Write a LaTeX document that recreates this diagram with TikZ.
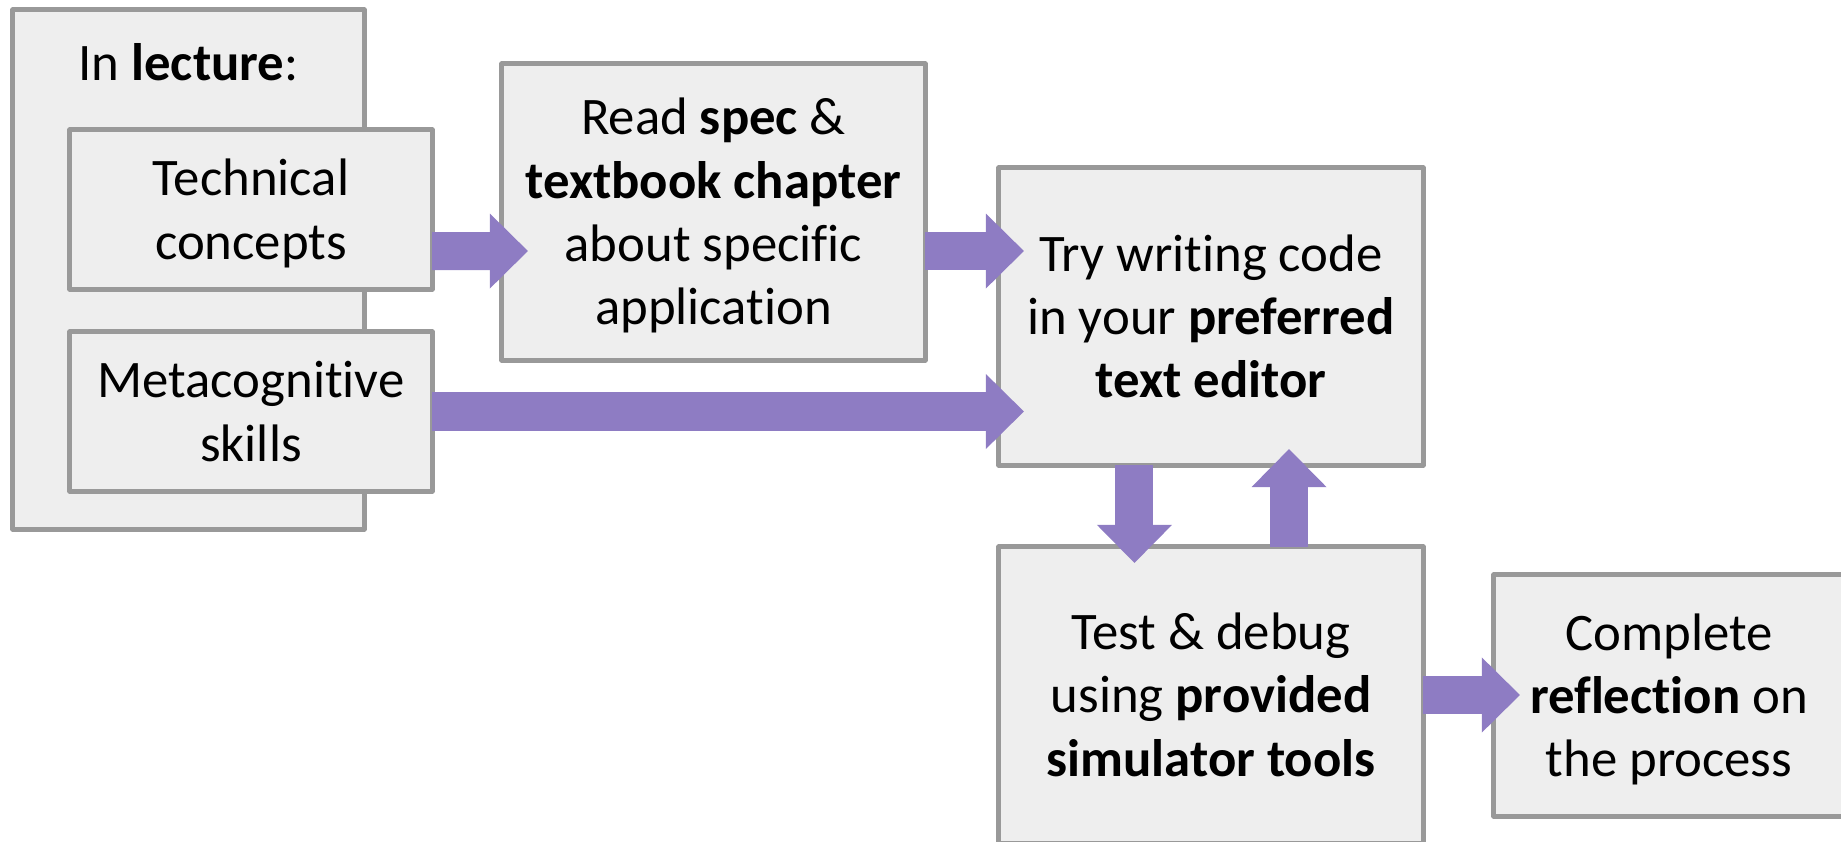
\documentclass[tikz,border=0pt]{standalone}
\usepackage{fontspec}
\setmainfont{Carlito}[Ligatures={TeX,NoCommon}]
\usetikzlibrary{arrows.meta}
\definecolor{boxfill}{HTML}{EEEEEE}
\definecolor{boxline}{HTML}{999999}
\definecolor{arrowfill}{HTML}{8E7CC3}
\newcommand\boxtext[1]{\begin{tabular}{@{}c@{}}\rule{0pt}{15.6pt}#1\end{tabular}}

\begin{document}
\begin{tikzpicture}[x=0.01cm, y=-0.01cm,
  box/.style={draw=boxline, fill=boxfill, line width=0.05cm, line join=round,
    inner sep=0pt, outer sep=0pt, font=\fontsize{15}{18}\selectfont},
  fat/.style={draw=arrowfill, line width=0.38cm,
    -{Triangle[width=0.75cm, length=0.38cm, line width=0pt]}}]
  \clip (0,0) rectangle (1841,842);
  \node (lecture) at (188.5,269.5) [box, minimum width=3.51cm, minimum height=5.19cm] {};
  \node (lecturetitle) at (188.5,80) [anchor=base, font=\fontsize{15}{18}\selectfont] {In \textbf{lecture}:};
  \node (tech) at (251,209.5) [box, minimum width=3.62cm, minimum height=1.59cm] {\boxtext{Technical\\ concepts}};
  \node (meta) at (251,411.5) [box, minimum width=3.62cm, minimum height=1.59cm] {\boxtext{Metacognitive\\ skills}};
  \node (read) at (713.5,212) [box, minimum width=4.23cm, minimum height=2.96cm]
    {\boxtext{Read \textbf{spec} \&\\ \textbf{textbook chapter}\\ about specific\\ application}};
  \node (try) at (1211,316.5) [box, minimum width=4.24cm, minimum height=2.97cm]
    {\boxtext{Try writing code\\ in your \textbf{preferred}\\ \textbf{text editor}}};
  \node (test) at (1211,695) [box, minimum width=4.24cm, minimum height=2.96cm]
    {\boxtext{Test \& debug\\ using \textbf{provided}\\ \textbf{simulator tools}}};
  \node (complete) at (1669,695.5) [box, minimum width=3.50cm, minimum height=2.41cm]
    {\boxtext{Complete\\ \textbf{reflection} on\\ the process}};
  \draw [fat] ([yshift=-0.415cm]tech.east) -- ([yshift=-0.39cm, xshift=0.26cm]read.west);
  \draw [fat] ([yshift=-0.39cm]read.east) -- ([yshift=-0.39cm, xshift=0.25cm]read.east -| try.west);
  \draw [fat] (meta.east) -- ([xshift=0.25cm]meta.east -| try.west);
  \draw [fat] ([xshift=-0.765cm]try.south) -- ([xshift=-0.765cm, yshift=-0.16cm]try.south |- test.north);
  \draw [fat] ([xshift=0.78cm]test.north) -- ([xshift=0.78cm, yshift=0.16cm]test.north |- try.south);
  \draw [fat] (test.east) -- ([xshift=0.26cm]test.east -| complete.west);
\end{tikzpicture}
\end{document}
